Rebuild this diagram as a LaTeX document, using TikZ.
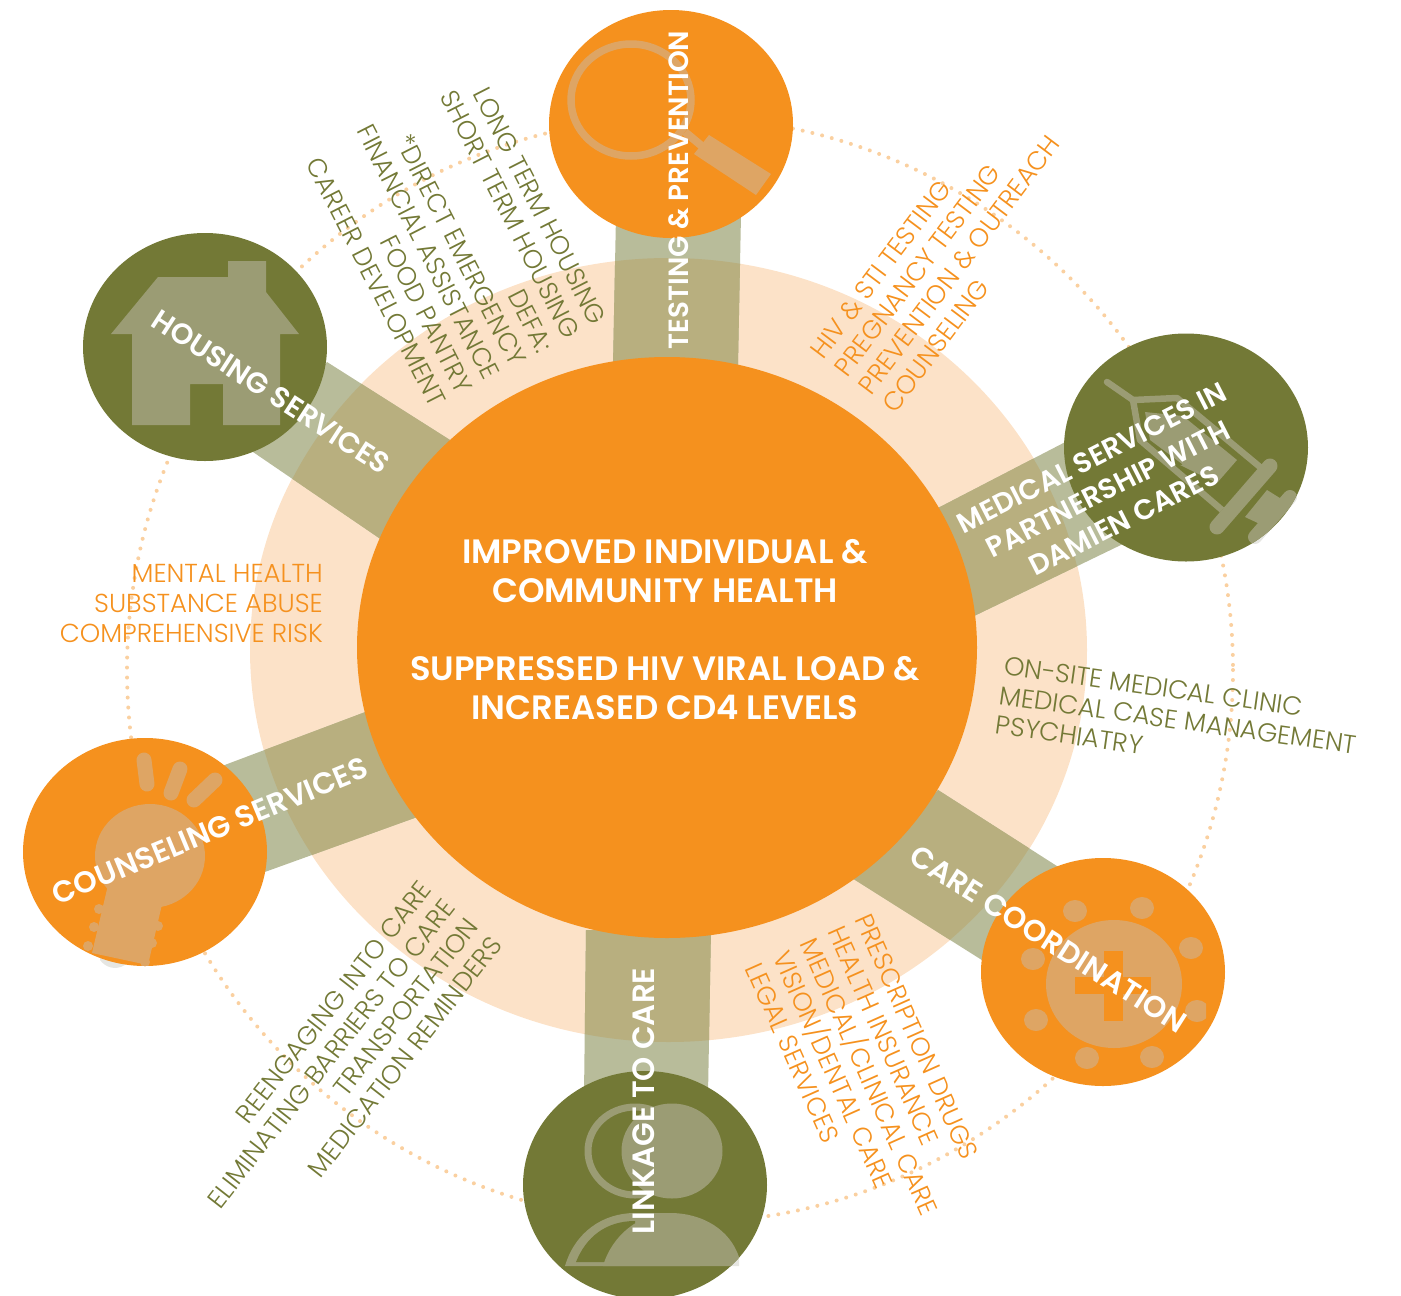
\documentclass[tikz,border=0pt]{standalone}
\usepackage{fontspec}
\setmainfont{Poppins}
\newfontfamily\listfont{Poppins Light}
\newfontfamily\labfont{Poppins SemiBold}
\usetikzlibrary{calc,shapes.geometric}
\definecolor{orangeM}{HTML}{F5911E}
\definecolor{oliveM}{HTML}{737936}
\definecolor{peachM}{HTML}{FCE2C8}
\definecolor{dotM}{HTML}{FAD0A0}
\definecolor{barW}{HTML}{B8BC9A}
\definecolor{barP}{HTML}{B8AF7F}
\definecolor{iconO}{HTML}{DEA564}
\definecolor{iconG}{HTML}{9B9C74}
\definecolor{ghost}{HTML}{E6E6E2}
\tikzset{
  x=1pt,y=-1pt,
  hub/.style={ellipse,draw=none,fill=#1,minimum width=244pt,minimum height=228pt,inner sep=0pt},
  lab/.style={text=white,font=\labfont\fontsize{#1}{35}\selectfont,align=center,inner sep=0pt},
  listO/.style={text=orangeM,font=\listfont\fontsize{26}{30}\selectfont,inner sep=0pt},
  listG/.style={text=oliveM,font=\listfont\fontsize{26}{30}\selectfont,inner sep=0pt},
}
\newcommand{\barA}{(616,215) -- (741,215) -- (738,365) -- (613,365) -- cycle}
\newcommand{\barB}{(586,930) -- (711,930) -- (708,1095) -- (584,1095) -- cycle}
\newcommand{\barC}{(327,362) -- (450,440) -- (382,540) -- (253,452) -- cycle}
\newcommand{\barD}{(938,508) -- (1075,437) -- (1125,543) -- (972,617) -- cycle}
\newcommand{\barE}{(222,766) -- (368,711) -- (420,816) -- (262,873) -- cycle}
\newcommand{\barF}{(938,790) -- (1060,868) -- (985,962) -- (852,878) -- cycle}
\newcommand{\plungerBody}{(1245,517) -- (1267,490) -- (1283,500) -- (1262,525) -- cycle}
\begin{document}
\begin{tikzpicture}
\useasboundingbox (0,0) rectangle (1401,1296);
% dotted orbit
\draw[dotM,line width=4pt,line cap=round,dash pattern=on 0pt off 10pt] (680,670) circle [radius=553];
% ring
\node[ellipse,fill=peachM,minimum width=837pt,minimum height=784pt,inner sep=0pt] (ring) at (668.5,650) {};
% bars
\fill[barW] \barA; \fill[barW] \barB; \fill[barW] \barC; \fill[barW] \barD; \fill[barW] \barE; \fill[barW] \barF;
\begin{scope}
\clip (668.5,650) ellipse [x radius=418, y radius=392];
\fill[barP] \barA; \fill[barP] \barB; \fill[barP] \barC; \fill[barP] \barD; \fill[barP] \barE; \fill[barP] \barF;
\end{scope}
% centre
\node[ellipse,fill=orangeM,minimum width=620pt,minimum height=581pt,inner sep=0pt] (hubC) at (667,647.5) {};
% faint parts of the icons that stick out of their discs
\draw[ghost,line width=14pt,line cap=round] (1290,497) -- (1255,537);
\fill[ghost] (100,950) -- (125,955) -- (125,965) .. controls (115,971) and (105,967) .. (100,960) -- cycle;
\fill[ghost] (700,1230) -- (739,1240) -- (739,1266) -- (700,1266) -- cycle;
% hubs
\node[hub=orangeM] (hubT) at (671,124) {};
\node[hub=oliveM] (hubM) at (1186,447.5) {};
\node[hub=orangeM] (hubK) at (1103,972) {};
\node[hub=oliveM] (hubL) at (645,1185) {};
\node[hub=orangeM] (hubN) at (145,852) {};
\node[hub=oliveM] (hubH) at (205,347) {};
% magnifier
\draw[iconO,line width=7.5pt] (631,100) ellipse [x radius=60, y radius=56];
\draw[iconO,line width=8pt] (685,132) -- (703,147);
\fill[iconO] (709,135) -- (771,174) -- (756,195) -- (694,154) -- cycle;
% syringe
\begin{scope}
\clip (1186,447.5) ellipse [x radius=122, y radius=114];
\draw[iconG,line width=6.5pt,line cap=round,line join=round] (1107,382) -- (1133,400) -- (1177,398) -- (1260,467);
\draw[iconG,line width=6.5pt,line join=round] (1133,400) -- (1140,440) -- (1222,510);
\fill[iconG] (1145,412) -- (1183,416) -- (1237,460) -- (1217,483) -- (1180,465) -- (1205,462) -- (1190,470) -- (1150,440) -- cycle;
\draw[iconG,line width=15pt,line cap=round] (1217,527) -- (1270,466);
\fill[iconG] \plungerBody;
\draw[iconG,line width=14pt,line cap=round] (1290,497) -- (1255,537);
\end{scope}
% bulb
\begin{scope}
\clip (145,852) ellipse [x radius=122, y radius=114];
\fill[iconO] (150,856) ellipse [x radius=55, y radius=52];
\fill[iconO] (108,885) -- (163,900) -- (148,965) -- (92,953) -- cycle;
\foreach \bx/\by in {99/909,94/927,88/946,158/926,152/943,145/962}
  \fill[iconO] (\bx,\by) circle [radius=5];
\end{scope}
\draw[iconO,line width=15pt,line cap=round] (144,760) -- (147,784);
\draw[iconO,line width=15pt,line cap=round] (180,769) -- (171,793);
\draw[iconO,line width=15pt,line cap=round] (215,780) -- (194,800);
% person
\begin{scope}
\clip (645,1185) ellipse [x radius=122, y radius=114];
\draw[iconG,line width=7pt] (635,1151) ellipse [x radius=47, y radius=44];
\fill[iconG] (672,1151) ellipse [x radius=50.5, y radius=47.5];
\fill[iconG] (565,1266) .. controls (575,1232) and (603,1213) .. (635,1213) -- (670,1213) .. controls (703,1213) and (730,1230) .. (739,1257) -- (739,1266) -- cycle;
\fill[oliveM] (576,1262) .. controls (586,1237) and (606,1221) .. (635,1221) -- (640,1262) -- cycle;
\fill[iconG] (603,1266) .. controls (612,1235) and (640,1213) .. (670,1213) -- (700,1240) -- (700,1266) -- cycle;
\end{scope}
% cross
\fill[iconO] (1114,984) ellipse [x radius=68, y radius=64];
\fill[orangeM] (1104,951) rectangle (1123,1021);
\fill[orangeM] (1075,977) rectangle (1151,994);
\begin{scope}
\clip (970,850) rectangle (1206,1090);
\foreach \dx/\dy in {1075/911,1142/908,1191/948,1197/1011,1152/1057,1087/1058,1036/1020,1033/959}
  \fill[iconO] (\dx,\dy) ellipse [x radius=12, y radius=11];
\end{scope}
% house
\fill[iconG] (228,261) -- (266,261) -- (266,292) -- (299,334) -- (280,334) -- (280,425) -- (223,425) -- (223,384) -- (190,384) -- (190,425) -- (132,425) -- (132,334) -- (111,334) -- (158,277) -- (228,277) -- cycle;
% labels
\node[lab=27.8,rotate=90] (tT) at (679,190) {TESTING \& PREVENTION};
\node[lab=30.8,rotate=90] (tL) at (644,1101) {LINKAGE TO CARE};
\node[lab=29,rotate=-33] (tH) at (271,392) {HOUSING SERVICES};
\node[lab=30,rotate=22.5] (tN) at (210,831) {COUNSELING SERVICES};
\node[lab=30,rotate=-32.5] (tK) at (1048,939) {CARE COORDINATION};
\node[lab=28.3,rotate=27] (tM) at (1108,489) {MEDICAL SERVICES IN\\PARTNERSHIP WITH\\DAMIEN CARES};
\node[text=white,font=\labfont\fontsize{33.8}{39}\selectfont,align=center,inner sep=0pt] (tC) at (665,629.5) {IMPROVED INDIVIDUAL \&\\COMMUNITY HEALTH\\[39pt]SUPPRESSED HIV VIRAL LOAD \&\\INCREASED CD4 LEVELS};
% lists
\node[listO,rotate=53,anchor=west,align=left] (lT) at (852,382) {HIV \& STI TESTING\\PREGNANCY TESTING\\PREVENTION \& OUTREACH\\COUNSELING};
\node[listG,rotate=-63,anchor=east,align=right] (lH) at (519,364) {LONG TERM HOUSING\\SHORT TERM HOUSING\\DEFA:\\*DIRECT EMERGENCY\\FINANCIAL ASSISTANCE\\FOOD PANTRY\\CAREER DEVELOPMENT};
\node[listO,anchor=east,align=right] (lN) at (323,603) {MENTAL HEALTH\\SUBSTANCE ABUSE\\COMPREHENSIVE RISK};
\node[listG,rotate=52,anchor=east,align=right] (lB) at (461,912) {REENGAGING INTO CARE\\ELIMINATING BARRIERS TO CARE\\TRANSPORTATION\\MEDICATION REMINDERS};
\node[listO,rotate=-66,anchor=west,align=left] (lK) at (808,940) {PRESCRIPTION DRUGS\\HEALTH INSURANCE\\MEDICAL/CLINICAL CARE\\VISION/DENTAL CARE\\LEGAL SERVICES};
\node[listG,rotate=-8,anchor=west,align=left] (lM) at (1000,695) {ON-SITE MEDICAL CLINIC\\MEDICAL CASE MANAGEMENT\\PSYCHIATRY};
\end{tikzpicture}
\end{document}
